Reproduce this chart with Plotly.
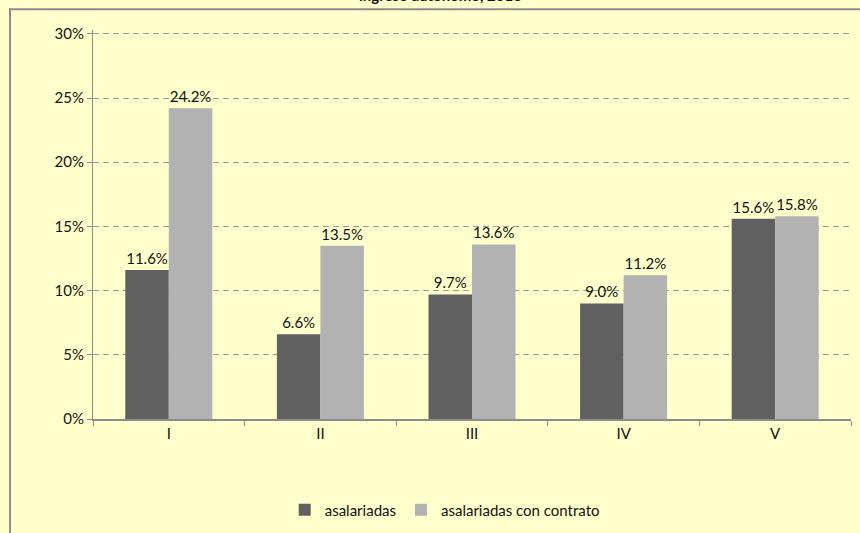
import plotly.graph_objects as go

# quintiles and shares (%)
quintiles = ["I", "II", "III", "IV", "V"]
asalariadas = [11.6, 6.6, 9.7, 9.0, 15.6]
con_contrato = [24.2, 13.5, 13.6, 11.2, 15.8]
y_ticks = [0, 5, 10, 15, 20, 25, 30]
y_labels = [f"{v}%" for v in y_ticks]

font_family = "Lato, 'Open Sans', sans-serif"
bg = "#FFFFCC"

fig = go.Figure()
fig.add_trace(go.Bar(
    x=quintiles, y=asalariadas, name="asalariadas",
    marker=dict(color="#606060", line=dict(width=0)),
    texttemplate="%{y:.1f}%", textposition="outside",
    textfont=dict(size=15, color="#111111"), cliponaxis=False,
))
fig.add_trace(go.Bar(
    x=quintiles, y=con_contrato, name="asalariadas con contrato",
    marker=dict(color="#B2B2B2", line=dict(width=0)),
    texttemplate="%{y:.1f}%", textposition="outside",
    textfont=dict(size=15, color="#111111"), cliponaxis=False,
))

fig.update_layout(
    width=860, height=533, autosize=False,
    paper_bgcolor=bg, plot_bgcolor=bg,
    font=dict(family=font_family, size=15, color="#111111"),
    margin=dict(l=93, r=9, t=30, b=114, autoexpand=False),
    barmode="group", bargap=0.426, bargroupgap=0,
    showlegend=True,
    legend=dict(orientation="h", x=0.464, xanchor="center", y=-0.234, yanchor="middle",
                bgcolor="rgba(0,0,0,0)", font=dict(size=15), itemwidth=30,
                traceorder="normal"),
)

fig.update_yaxes(
    range=[0, 30.3], tickvals=y_ticks, ticktext=y_labels,
    showline=True, linecolor="#8C8C8C", linewidth=1,
    ticks="outside", ticklen=5, tickcolor="#8C8C8C",
    showgrid=True, gridcolor="#9A9A9A", griddash="6px,4px", gridwidth=1,
    zeroline=False, tickfont=dict(size=15), automargin=False,
)
fig.update_xaxes(
    showline=True, linecolor="#8C8C8C", linewidth=1.5,
    ticks="outside", ticklen=5, tickcolor="#8C8C8C", tickson="boundaries",
    showgrid=False, tickfont=dict(size=15), automargin=False,
)

# outer chart frame: filled strips for the left and top edges
frame_col = "#8C8C8C"
fig.add_shape(type="rect", xref="paper", yref="paper",
              x0=-0.1108, x1=-0.1082, y0=-0.4, y1=1.0562,
              fillcolor=frame_col, line=dict(width=0), layer="above")
fig.add_shape(type="rect", xref="paper", yref="paper",
              x0=-0.1108, x1=1.05, y0=1.0510, y1=1.0562,
              fillcolor=frame_col, line=dict(width=0), layer="above")

# title (partly cut off at the top, as in the source)
fig.add_annotation(text="<b>ingreso autónomo, 2013</b>", xref="paper", yref="paper",
                   x=0.458, y=1.062, xanchor="center", yanchor="bottom",
                   showarrow=False, font=dict(size=15, color="#111111"))

# drop the page margin so the chart sits at the window's corner
fig.write_html("out.html", config={"displayModeBar": False},
               post_script="document.body.style.margin='0';document.body.style.background='#FFFFCC';")
